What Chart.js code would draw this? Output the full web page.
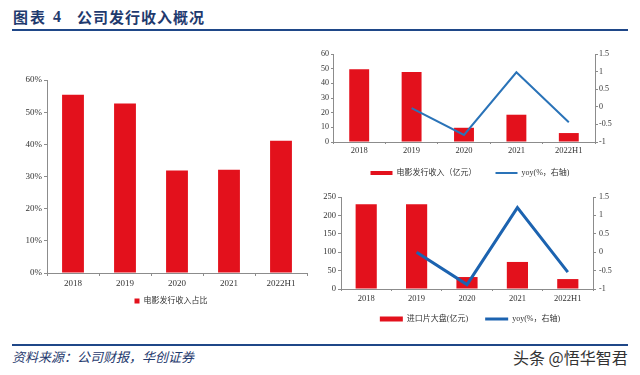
<!DOCTYPE html>
<html><head><meta charset="utf-8">
<script src="https://cdn.jsdelivr.net/npm/chart.js@4.4.1/dist/chart.umd.min.js"></script>
<style>
html,body{margin:0;padding:0;background:#fff;}
body{width:640px;height:375px;position:relative;overflow:hidden;font-family:"Noto Sans CJK SC",sans-serif;}
.abs{position:absolute;}
.rule{position:absolute;left:12px;width:616px;height:2px;background:#1f4788;}
.ttl{position:absolute;top:7px;font-weight:bold;font-size:15px;line-height:20px;color:#1f3a6e;white-space:nowrap;}
</style>
</head><body>
<div class="ttl" style="left:13px;letter-spacing:2px;">图表</div>
<div class="ttl" style="left:53px;font-family:'Liberation Serif',serif;font-size:16px;">4</div>
<div class="ttl" style="left:77px;letter-spacing:1px;">公司发行收入概况</div>
<div class="rule" style="top:29px;"></div>
<div class="rule" style="top:344px;"></div>
<div class="abs" style="left:12px;top:348px;font-size:13px;line-height:18px;font-style:italic;color:#1f3a6e;white-space:nowrap;">资料来源：公司财报，华创证券</div>
<div class="abs" style="left:513px;top:347px;font-size:16px;line-height:20px;color:#333;white-space:nowrap;">头条 @悟华智君</div>

<canvas id="c1" class="abs" style="left:0px;top:60px;" width="320" height="255"></canvas>
<canvas id="c2" class="abs" style="left:300px;top:40px;" width="340" height="154"></canvas>
<canvas id="c3" class="abs" style="left:300px;top:185px;" width="340" height="154"></canvas>

<script>
// ---- data ----
const categories = ['2018', '2019', '2020', '2021', '2022H1'];
const shareLabel = '电影发行收入占比';
const shareValues = [55.4, 52.7, 31.9, 32.1, 41.1];
const distLabel = '电影发行收入（亿元）';
const distRevenue = [49.6, 47.7, 9.7, 18.6, 6.1];
const distYoy = [null, -0.04, -0.80, 0.98, -0.44];
const importLabel = '进口片大盘(亿元)';
const importBox = [230, 230, 32.5, 73.5, 27];
const importYoy = [null, 0.0, -0.88, 1.21, -0.54];
const yoyLabel = 'yoy(%，右轴)';
const pctTicks = [0, 10, 20, 30, 40, 50, 60];
const distTicks = [0, 10, 20, 30, 40, 50, 60];
const importTicks = [0, 50, 100, 150, 200, 250];
const yoyTicks = [-1, -0.5, 0, 0.5, 1, 1.5];

// ---- styles ----
const RED = '#e3111c';
const SERIF = "'Liberation Serif', 'Noto Sans CJK SC', serif";
const AXIS = '#8c8c8c';
const TXT = '#333333';
Chart.defaults.animation = false;
Chart.defaults.responsive = false;
Chart.defaults.color = TXT;

// nudges the legend box after layout (keeps chart area where it is)
const legendShift = {
  id: 'legendShift',
  afterLayout(chart, args, opts) {
    const l = chart.legend;
    if (!l) return;
    const dx = opts.dx || 0, dy = opts.dy || 0;
    l.left += dx; l.right += dx; l.top += dy; l.bottom += dy;
  }
};

function fixedTicks(list) {
  return function (scale) {
    scale.ticks = list.map(v => ({ value: v }));
  };
}
function yAxis(opts) {
  return {
    type: 'linear',
    position: opts.position || 'left',
    min: opts.ticks[0],
    max: opts.ticks[opts.ticks.length - 1],
    afterBuildTicks: fixedTicks(opts.ticks),
    afterFit: s => { s.width = opts.width; },
    border: { display: true, color: AXIS, width: 1 },
    grid: { display: true, drawOnChartArea: false, drawTicks: true, tickLength: opts.tl, color: AXIS },
    ticks: {
      padding: opts.pad,
      font: { family: SERIF, size: opts.font },
      color: TXT,
      callback: opts.fmt || (v => String(v))
    }
  };
}
function xAxis(opts) {
  return {
    type: 'category',
    offset: true,
    afterFit: s => { s.height = opts.height; },
    border: { display: true, color: AXIS, width: 1 },
    grid: { display: true, offset: true, drawOnChartArea: false, drawTicks: true, tickLength: opts.tl, color: AXIS },
    ticks: { padding: opts.pad, font: { family: SERIF, size: opts.font }, color: TXT, maxRotation: 0, autoSkip: false }
  };
}
function legend(opts) {
  return {
    display: true,
    position: 'bottom',
    labels: {
      usePointStyle: true,
      boxHeight: opts.bh,
      pointStyleWidth: opts.bw,
      padding: opts.pad,
      color: TXT,
      font: { family: SERIF, size: 8 },
      sort: (a, b) => a.datasetIndex - b.datasetIndex,
      generateLabels: chart => Chart.defaults.plugins.legend.labels.generateLabels(chart)
        .map(l => Object.assign(l, { pointStyle: chart.data.datasets[l.datasetIndex].type === 'line' ? 'line' : 'rect' }))
    }
  };
}

// ---- chart 1 ----
new Chart(document.getElementById('c1'), {
  type: 'bar',
  plugins: [legendShift],
  data: {
    labels: categories,
    datasets: [{ type: 'bar', label: shareLabel, data: shareValues, backgroundColor: RED, borderWidth: 0,
      categoryPercentage: 1, barPercentage: 0.42 }]
  },
  options: {
    layout: { padding: { left: 0, right: 13, top: 20, bottom: 0 } },
    scales: {
      x: xAxis({ height: 16, tl: 3, pad: 2, font: 9 }),
      y: yAxis({ ticks: pctTicks, width: 47, tl: 3, pad: 2, font: 9, fmt: v => v + '%' })
    },
    plugins: { legend: legend({ bh: 5, bw: 5, pad: 8 }), legendShift: { dx: 17.5, dy: 0 }, tooltip: { enabled: false } }
  }
});

// ---- chart 2 ----
new Chart(document.getElementById('c2'), {
  type: 'bar',
  plugins: [legendShift],
  data: {
    labels: categories,
    datasets: [
      { type: 'bar', label: distLabel, data: distRevenue, backgroundColor: RED, borderWidth: 0,
        categoryPercentage: 1, barPercentage: 0.38, yAxisID: 'y', order: 1 },
      { type: 'line', label: yoyLabel, data: distYoy, borderColor: '#2a73b8', backgroundColor: '#2a73b8',
        borderWidth: 2, pointRadius: 0, tension: 0, fill: false, yAxisID: 'y1', order: 0 }
    ]
  },
  options: {
    layout: { padding: { left: 0, right: 0, top: 14, bottom: 0 } },
    scales: {
      x: xAxis({ height: 15, tl: 2, pad: 2, font: 8.5 }),
      y: yAxis({ ticks: distTicks, width: 33, tl: 2, pad: 2, font: 8 }),
      y1: yAxis({ ticks: yoyTicks, width: 45, tl: 3, pad: 1, font: 8, position: 'right' })
    },
    plugins: { legend: legend({ bh: 4, bw: 22, pad: 19 }), legendShift: { dx: 0, dy: -7 }, tooltip: { enabled: false } }
  }
});

// ---- chart 3 ----
new Chart(document.getElementById('c3'), {
  type: 'bar',
  plugins: [legendShift],
  data: {
    labels: categories,
    datasets: [
      { type: 'bar', label: importLabel, data: importBox, backgroundColor: RED, borderWidth: 0,
        categoryPercentage: 1, barPercentage: 0.42, yAxisID: 'y', order: 1 },
      { type: 'line', label: yoyLabel, data: importYoy, borderColor: '#1c63b0', backgroundColor: '#1c63b0',
        borderWidth: 3, pointRadius: 0, tension: 0, fill: false, yAxisID: 'y1', order: 0 }
    ]
  },
  options: {
    layout: { padding: { left: 0, right: 0, top: 12, bottom: 0 } },
    scales: {
      x: xAxis({ height: 15, tl: 2, pad: 2.5, font: 8.5 }),
      y: yAxis({ ticks: importTicks, width: 41, tl: 3, pad: 2, font: 8.5 }),
      y1: yAxis({ ticks: yoyTicks, width: 47, tl: 3, pad: 3, font: 8, position: 'right' })
    },
    plugins: { legend: legend({ bh: 5, bw: 23, pad: 17 }), legendShift: { dx: 0, dy: -6 }, tooltip: { enabled: false } }
  }
});
</script>
</body></html>
